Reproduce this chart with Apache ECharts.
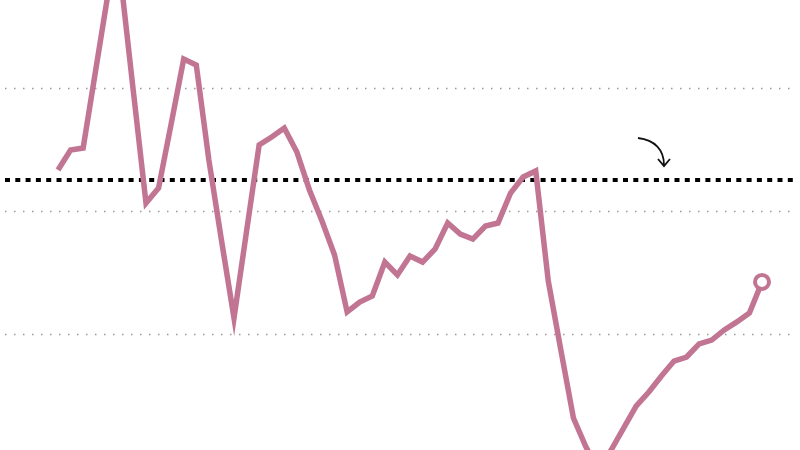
<!DOCTYPE html>
<html>
<head>
<meta charset="utf-8">
<style>
  html, body { margin: 0; padding: 0; background: #ffffff; }
  #chart { width: 800px; height: 450px; }
</style>
<script src="https://cdn.jsdelivr.net/npm/echarts@6/dist/echarts.min.js"></script>
</head>
<body>
<div id="chart"></div>
<script>
// Periods (57 evenly spaced observations; axis labels are not shown in the chart)
const periods = Array.from({ length: 57 }, (_, i) => String(i + 1));

// Series values
const values = [
  2.333, 2.496, 2.512, 3.146, 3.780, 3.878, 2.967, 2.065, 2.187, 2.707,
  3.236, 3.187, 2.415, 1.764, 1.130, 1.837, 2.537, 2.602, 2.675, 2.480,
  2.171, 1.919, 1.642, 1.179, 1.260, 1.309, 1.585, 1.480, 1.634, 1.585,
  1.691, 1.902, 1.813, 1.772, 1.878, 1.902, 2.146, 2.276, 2.325, 1.430,
  0.870, 0.317, 0.081, -0.106, 0.057, 0.236, 0.415, 0.528, 0.659, 0.780,
  0.813, 0.919, 0.951, 1.033, 1.098, 1.171, 1.423
];

// Reference level (thick dotted black line)
const referenceLevel = 2.252;

// Value-axis extent and gridline step
const yMin = 0;
const yMax = 3.7154;
const yStep = 1;

const chart = echarts.init(document.getElementById('chart'), null, { renderer: 'canvas' });

const yAxisCommon = {
  type: 'value',
  min: yMin,
  max: yMax,
  interval: yStep,
  axisLine: { show: false },
  axisTick: { show: false },
  axisLabel: { show: false }
};

const option = {
  backgroundColor: '#ffffff',
  animation: false,
  grid: [
    { left: 58, right: 38, top: 0, height: 457, containLabel: false, outerBoundsMode: 'none' },
    { left: 5, right: 5, top: 0, height: 457, containLabel: false, outerBoundsMode: 'none' }
  ],
  xAxis: [
    {
      gridIndex: 0,
      type: 'category',
      data: periods,
      boundaryGap: false,
      show: false
    },
    {
      gridIndex: 1,
      type: 'value',
      min: 0,
      max: 1,
      show: false
    }
  ],
  yAxis: [
    Object.assign({ gridIndex: 0, splitLine: { show: false } }, yAxisCommon),
    Object.assign({
      gridIndex: 1,
      splitLine: {
        show: true,
        showMinLine: false,
        showMaxLine: false,
        lineStyle: { color: '#999999', width: 1.4, type: [1.5, 7.5] }
      }
    }, yAxisCommon)
  ],
  graphic: [
    {
      type: 'bezierCurve',
      shape: { x1: 638, y1: 138, cpx1: 655, cpy1: 140, cpx2: 664, cpy2: 150, x2: 664, y2: 165 },
      style: { stroke: '#111111', lineWidth: 1.8, fill: null },
      z: 10
    },
    {
      type: 'polyline',
      shape: { points: [[658, 159], [664, 166], [670, 159]] },
      style: { stroke: '#111111', lineWidth: 1.8, fill: null },
      z: 10
    }
  ],
  series: [
    {
      name: 'reference',
      type: 'line',
      xAxisIndex: 1,
      yAxisIndex: 1,
      data: [[0, referenceLevel], [1, referenceLevel]],
      symbol: 'none',
      silent: true,
      lineStyle: { color: '#000000', width: 4, type: [5, 5.3] },
      z: 3
    },
    {
      name: 'series',
      type: 'line',
      xAxisIndex: 0,
      yAxisIndex: 0,
      data: values,
      clip: true,
      symbol: 'none',
      lineStyle: { color: '#c27592', width: 5.5, join: 'miter', cap: 'butt' },
      markPoint: {
        silent: true,
        symbol: 'circle',
        symbolSize: 14,
        label: { show: false },
        itemStyle: { color: '#ffffff', borderColor: '#c27592', borderWidth: 4 },
        data: [{ coord: [periods[periods.length - 1], values[values.length - 1]] }]
      },
      z: 4
    }
  ]
};

chart.setOption(option);
</script>
</body>
</html>
